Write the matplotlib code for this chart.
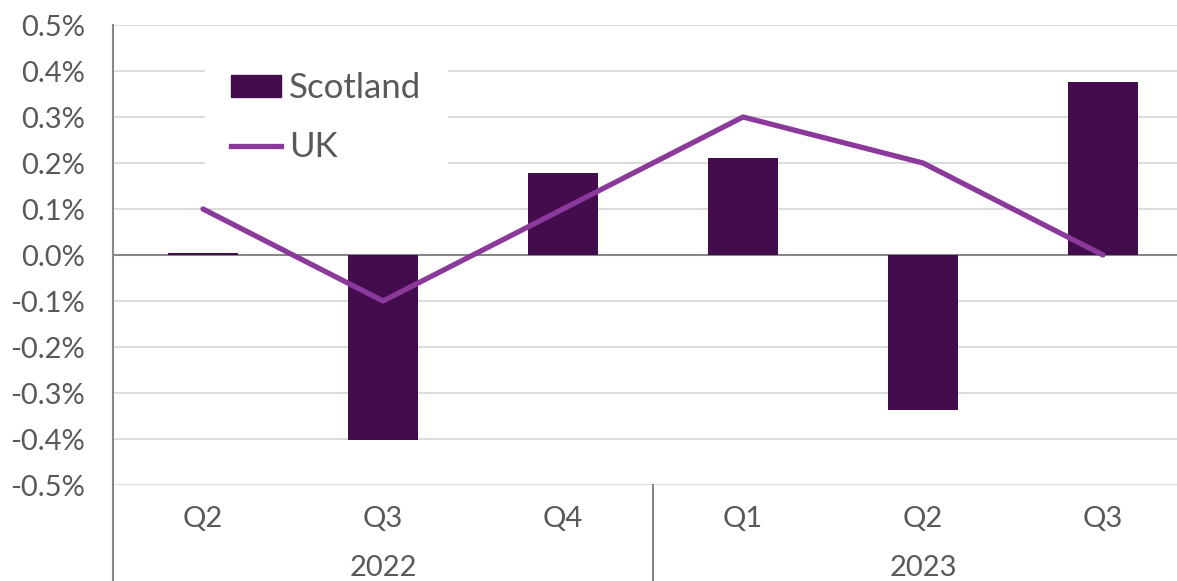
import matplotlib.pyplot as plt
import matplotlib.transforms as mtransforms
from matplotlib.patches import Patch
from matplotlib.lines import Line2D

# data
quarters = ["Q2", "Q3", "Q4", "Q1", "Q2", "Q3"]
years = ["2022", "2023"]
year_spans = [(0, 2), (3, 5)]
scotland = [0.005, -0.403, 0.178, 0.210, -0.337, 0.377]
uk = [0.1, -0.1, 0.1, 0.3, 0.2, 0.0]
yticks = [-0.5, -0.4, -0.3, -0.2, -0.1, 0.0, 0.1, 0.2, 0.3, 0.4, 0.5]

bar_col = "#430C4C"
line_col = "#8B3A9B"
txt_col = "#595959"

plt.rcParams["font.family"] = ["Lato", "DejaVu Sans"]

fig = plt.figure(figsize=(11.77, 5.81), dpi=100)
ax = fig.add_axes([113 / 1177, 96 / 581, 1080 / 1177, 460 / 581])

x = list(range(len(quarters)))
ax.bar(x, scotland, width=0.39, color=bar_col, zorder=3)
ax.plot(x, uk, color=line_col, lw=3.8, solid_capstyle="round", zorder=4)

ax.set_xlim(-0.5, 5.5)
ax.set_ylim(-0.5, 0.5)
ax.set_yticks(yticks)
ax.set_yticklabels([f"{v:.1f}%" for v in yticks], color=txt_col, fontsize=21)
ax.tick_params(axis="y", length=0, pad=20)
ax.set_xticks([])
ax.grid(axis="y", color="#D9D9D9", lw=1.3, zorder=0)
ax.axhline(0, color="#878787", lw=1.5, zorder=2)
for s in ax.spines.values():
    s.set_visible(False)

# axis line running down to the bottom of the figure
trans = mtransforms.blended_transform_factory(ax.transData, fig.transFigure)
ax.plot([-0.5, -0.5], [0, 556 / 581], transform=trans, color="#878787",
        lw=1.5, clip_on=False, zorder=5)
ax.plot([2.5, 2.5], [0, 96 / 581], transform=trans, color="#878787",
        lw=1.5, clip_on=False)

for i, q in enumerate(quarters):
    ax.text(i, 62 / 581, q, transform=trans, ha="center", va="center",
            color=txt_col, fontsize=21)
for yr, (a, b) in zip(years, year_spans):
    ax.text((a + b) / 2, 13 / 581, yr, transform=trans, ha="center",
            va="center", color=txt_col, fontsize=21)

handles = [Patch(color=bar_col), Line2D([], [], color=line_col, lw=3.8)]
leg = ax.legend(handles, ["Scotland", "UK"], loc="upper left",
                bbox_to_anchor=(0.085, 0.954), borderaxespad=0,
                frameon=True, fancybox=False, framealpha=1,
                edgecolor="white", fontsize=25,
                handlelength=1.44, handleheight=0.58, labelspacing=0.78,
                handletextpad=0.23, borderpad=0.75)
for t in leg.get_texts():
    t.set_color(txt_col)
leg.set_zorder(6)

fig.savefig("out.png", dpi=100)
